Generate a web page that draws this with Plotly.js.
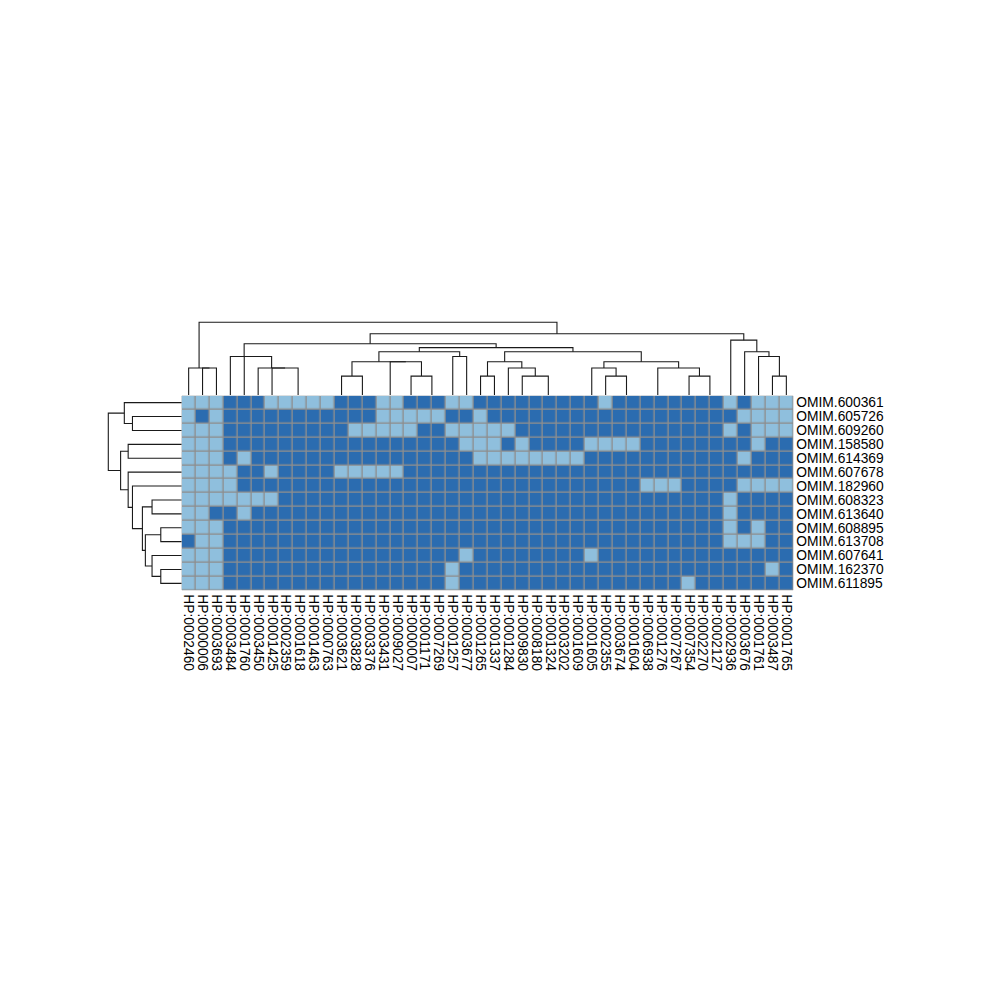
<!DOCTYPE html>
<html><head><meta charset="utf-8">
<script src="https://cdn.plot.ly/plotly-3.0.1.min.js"></script>
<style>html,body{margin:0;padding:0;background:#fff}</style>
</head><body><div id="chart" style="width:1000px;height:1000px"></div>
<script>
const rowLabels = ["OMIM.600361","OMIM.605726","OMIM.609260","OMIM.158580","OMIM.614369","OMIM.607678","OMIM.182960","OMIM.608323","OMIM.613640","OMIM.608895","OMIM.613708","OMIM.607641","OMIM.162370","OMIM.611895"];
const colLabels = ["HP:0002460","HP:0000006","HP:0003693","HP:0003484","HP:0001760","HP:0003450","HP:0001425","HP:0002359","HP:0001618","HP:0001463","HP:0000763","HP:0003621","HP:0003828","HP:0003376","HP:0003431","HP:0009027","HP:0000007","HP:0001171","HP:0007269","HP:0001257","HP:0003677","HP:0001265","HP:0001337","HP:0001284","HP:0009830","HP:0008180","HP:0001324","HP:0003202","HP:0001609","HP:0001605","HP:0002355","HP:0003674","HP:0001604","HP:0006938","HP:0001276","HP:0007267","HP:0007354","HP:0002270","HP:0002127","HP:0002936","HP:0003676","HP:0001761","HP:0003487","HP:0001765"];
// 1 = light cell, 0 = dark cell (one row per disease, one column per HP term)
const cellValues = [
 [1,1,1,0,0,0,1,1,1,1, 1,0,0,0,1,1,0,0,0,1, 1,0,0,0,0,0,0,0,0,0, 1,0,0,0,0,0,0,0,0,1, 0,1,1,1],
 [1,0,1,0,0,0,0,0,0,0, 0,0,0,0,1,1,1,1,1,0, 0,1,0,0,0,0,0,0,0,0, 0,0,0,0,0,0,0,0,0,0, 1,1,1,1],
 [1,1,1,0,0,0,0,0,0,0, 0,0,1,1,1,1,1,0,0,1, 1,1,1,1,0,0,0,0,0,0, 0,0,0,0,0,0,0,0,0,1, 0,1,1,1],
 [1,1,1,0,0,0,0,0,0,0, 0,0,0,0,0,0,0,0,0,0, 1,1,1,0,1,0,0,0,0,1, 1,1,1,0,0,0,0,0,0,0, 0,1,0,0],
 [1,1,1,0,1,0,0,0,0,0, 0,0,0,0,0,0,0,0,0,0, 0,1,1,1,1,1,1,1,1,0, 0,0,0,0,0,0,0,0,0,0, 1,0,0,0],
 [1,1,1,1,0,0,1,0,0,0, 0,1,1,1,1,1,0,0,0,0, 0,0,0,0,0,0,0,0,0,0, 0,0,0,0,0,0,0,0,0,0, 0,0,0,0],
 [1,1,1,1,0,0,0,0,0,0, 0,0,0,0,0,0,0,0,0,0, 0,0,0,0,0,0,0,0,0,0, 0,0,0,1,1,1,0,0,0,0, 1,1,1,1],
 [1,1,1,1,1,1,1,0,0,0, 0,0,0,0,0,0,0,0,0,0, 0,0,0,0,0,0,0,0,0,0, 0,0,0,0,0,0,0,0,0,1, 0,0,0,0],
 [1,1,0,0,1,0,0,0,0,0, 0,0,0,0,0,0,0,0,0,0, 0,0,0,0,0,0,0,0,0,0, 0,0,0,0,0,0,0,0,0,1, 0,0,0,0],
 [1,1,1,0,0,0,0,0,0,0, 0,0,0,0,0,0,0,0,0,0, 0,0,0,0,0,0,0,0,0,0, 0,0,0,0,0,0,0,0,0,1, 0,1,0,0],
 [0,1,1,0,0,0,0,0,0,0, 0,0,0,0,0,0,0,0,0,0, 0,0,0,0,0,0,0,0,0,0, 0,0,0,0,0,0,0,0,0,1, 1,1,0,0],
 [1,1,1,0,0,0,0,0,0,0, 0,0,0,0,0,0,0,0,0,0, 1,0,0,0,0,0,0,0,0,1, 0,0,0,0,0,0,0,0,0,0, 0,0,0,0],
 [1,1,1,0,0,0,0,0,0,0, 0,0,0,0,0,0,0,0,0,1, 0,0,0,0,0,0,0,0,0,0, 0,0,0,0,0,0,0,0,0,0, 0,0,1,0],
 [1,1,1,0,0,0,0,0,0,0, 0,0,0,0,0,0,0,0,0,1, 0,0,0,0,0,0,0,0,0,0, 0,0,0,0,0,0,1,0,0,0, 0,0,0,0]
];
// Column dendrogram, hclust style merges: negative = leaf (display position + 1), positive = earlier merge number
const colMergeLeft  = [-10,-9,-8,-15,-13,-18,-28,-27,-26,-32,-35,-34,-38,-2,-1,-7,-6,-5,-4,-12,-17,4,20,-20,23,-22,-25,-24,26,-31,-30,-37,12,31,29,25,19,-43,-42,-41,-40,37,15];
const colMergeRight = [-11,1,2,-16,-14,-19,-29,7,8,-33,-36,11,-39,-3,14,3,16,17,18,5,6,21,22,-21,24,-23,9,27,28,10,30,13,32,33,34,35,36,-44,38,39,40,41,42];
const colMergeHeight= [0,0,0,0,0,0,0,0,0,0,0,0,0,1.41,1.41,1.41,1.41,2,2,1,1,1.73,1.73,2,2.24,1,1,1.41,1.73,1,1.41,1,1.41,1.73,2.24,2.45,2.65,1,2,2.24,2.83,3.16,3.74];
// Row dendrogram merges
const rowMergeLeft  = [-2,-1,-4,-8,-10,-13,-12,5,4,-7,-6,3,2];
const rowMergeRight = [-3,1,-5,-9,-11,-14,6,7,8,9,10,11,12];
const rowMergeHeight= [3.32,3.87,3.61,2,1.41,1.41,2,2.45,2.65,3.32,3.61,4.12,4.95];

const lightColor = "#8fbfdd", darkColor = "#2b6cb0", borderColor = "#8e8e8e";

function dendro(L, R, H) {
  const pos = [], hgt = [], a = [], b = [];
  const get = c => c < 0 ? [-c - 1, 0] : [pos[c - 1], hgt[c - 1]];
  for (let i = 0; i < L.length; i++) {
    const [xa, ha] = get(L[i]);
    const [xb, hb] = get(R[i]);
    a.push(xa, xa, xb, xb, null);
    b.push(ha, H[i], H[i], hb, null);
    pos.push((xa + xb) / 2); hgt.push(H[i]);
  }
  return {leafPos: a, height: b, root: H[H.length - 1]};
}
const colTree = dendro(colMergeLeft, colMergeRight, colMergeHeight);
const rowTree = dendro(rowMergeLeft, rowMergeRight, rowMergeHeight);

const nR = rowLabels.length, nC = colLabels.length;
const G = {left: 181.7, top: 395.7, cell: 13.9, tree: 73.4, lift: 0.8};
const hmRight = G.left + nC * G.cell, hmBottom = G.top + nR * G.cell;
const px = v => v / 1000, py = v => 1 - v / 1000;
const pad = 1.03;
const colIdx = colLabels.map((_, i) => i), rowIdx = rowLabels.map((_, i) => i);
const font = {family: "Liberation Sans, Arial, sans-serif", size: 13.8, color: "#000"};
const colUnit = colTree.root / G.tree; // data units per pixel

const traces = [
  {type: "heatmap", z: cellValues, x: colIdx, y: rowIdx, zmin: 0, zmax: 1,
   colorscale: [[0, darkColor], [1, lightColor]], showscale: false, xgap: 1.4, ygap: 1.4,
   hoverinfo: "skip", xaxis: "x", yaxis: "y"},
  {type: "scatter", mode: "lines", x: colTree.leafPos, y: colTree.height, xaxis: "x2", yaxis: "y2",
   line: {color: "#1a1a1a", width: 1.1}, hoverinfo: "skip", connectgaps: false},
  {type: "scatter", mode: "lines", x: rowTree.height, y: rowTree.leafPos, xaxis: "x3", yaxis: "y3",
   line: {color: "#1a1a1a", width: 1.1}, hoverinfo: "skip", connectgaps: false}
];
const hidden = {visible: false, showgrid: false, zeroline: false, fixedrange: true};
const layout = {
  width: 1000, height: 1000, autosize: false, margin: {l: 0, r: 0, t: 0, b: 0},
  paper_bgcolor: "#fff", plot_bgcolor: "#fff", showlegend: false, font: font,
  xaxis: {domain: [px(G.left), px(hmRight)], range: [-0.5, nC - 0.5], anchor: "y",
    tickmode: "array", tickvals: colIdx, ticktext: colLabels, tickangle: 90, ticks: "",
    ticklabelstandoff: 3, showgrid: false, zeroline: false, showline: false, automargin: false, tickfont: font},
  yaxis: {domain: [py(hmBottom), py(G.top)], range: [nR - 0.5, -0.5], anchor: "x", side: "right",
    tickmode: "array", tickvals: rowIdx, ticktext: rowLabels, ticks: "", ticklabelstandoff: 2,
    showgrid: false, zeroline: false, showline: false, automargin: false, tickfont: font},
  xaxis2: Object.assign({domain: [px(G.left), px(hmRight)], range: [-0.5, nC - 0.5], anchor: "y2"}, hidden),
  yaxis2: Object.assign({domain: [py(G.top - G.lift), py(G.top - G.tree * pad)],
    range: [G.lift * colUnit, colTree.root * pad], anchor: "x2"}, hidden),
  xaxis3: Object.assign({domain: [px(G.left - G.tree * pad), px(G.left)], range: [rowTree.root * pad, 0], anchor: "y3"}, hidden),
  yaxis3: Object.assign({domain: [py(hmBottom), py(G.top)], range: [nR - 0.5, -0.5], anchor: "x3"}, hidden),
  shapes: [{type: "rect", xref: "x", yref: "y", x0: -0.5, x1: nC - 0.5, y0: -0.5, y1: nR - 0.5,
    fillcolor: borderColor, line: {color: borderColor, width: 1}, layer: "below"}]
};
Plotly.newPlot("chart", traces, layout, {staticPlot: true, displayModeBar: false});
</script></body></html>
